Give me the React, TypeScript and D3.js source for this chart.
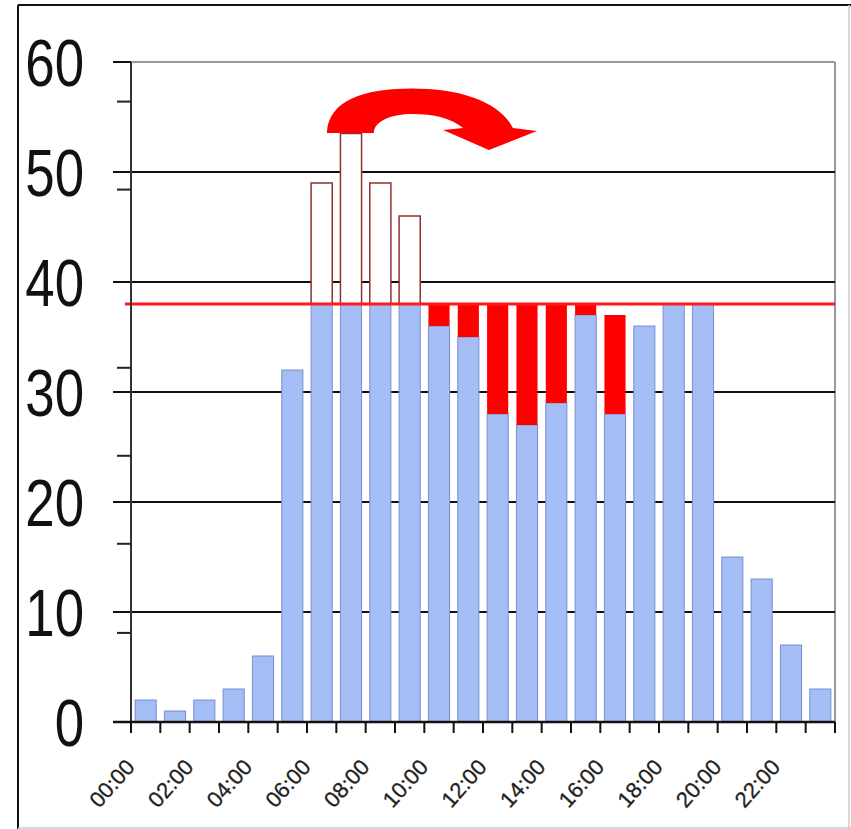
import React from "react";
import * as d3 from "d3";

const hours = d3.range(24).map((h) => `${String(h).padStart(2, "0")}:00`);
// value served within the cap (blue)
const served = [2, 1, 2, 3, 6, 32, 38, 38, 38, 38, 36, 35, 28, 27, 29, 37, 28, 36, 38, 38, 15, 13, 7, 3];
// original peak demand above the cap (outlined bars)
const peakDemand = [0, 0, 0, 0, 0, 0, 49, 53.5, 49, 46, 0, 0, 0, 0, 0, 0, 0, 0, 0, 0, 0, 0, 0, 0];
// demand shifted into later hours (red)
const shiftedIn = [0, 0, 0, 0, 0, 0, 0, 0, 0, 0, 2, 3, 10, 11, 9, 1, 9, 0, 0, 0, 0, 0, 0, 0];
const capacity = 38;
const yTicks = [0, 10, 20, 30, 40, 50, 60];
const yMinorTicks = [8.1, 16.2, 24.2, 32.2, 48.4, 56.4];
const xLabelEvery = 2;
// arrow annotation in data units: [hourPosition, value]
const arrowOuter: [number, number][] = [
  [6.68, 53.55], [6.72, 56.6], [8.0, 57.6], [9.58, 57.6],
  [11.3, 57.6], [12.6, 56.3], [13.02, 54.0],
];
const arrowHead: [number, number][] = [[13.84, 53.73], [12.2, 52.0], [10.64, 53.82], [11.32, 54.0]];
const arrowInner: [number, number][] = [
  [11.32, 54.0], [10.88, 54.91], [10.36, 55.27], [9.58, 55.27],
  [8.9, 55.27], [8.28, 54.64], [8.28, 53.55],
];

const W = 851;
const H = 829;
const M = { left: 131, right: 835, top: 62, bottom: 722 };

export default function App() {
  const x = d3.scaleBand<string>().domain(hours).range([M.left, M.right]).paddingInner(0.28).paddingOuter(0.14);
  const xc = d3.scaleLinear().domain([0, 24]).range([M.left, M.right]);
  const y = d3.scaleLinear().domain([0, 60]).range([M.bottom, M.top]);
  const bw = x.bandwidth();

  const P = (p: [number, number]) => `${xc(p[0]).toFixed(1)},${y(p[1]).toFixed(1)}`;
  const arrowD =
    `M${P(arrowOuter[0])} C${P(arrowOuter[1])} ${P(arrowOuter[2])} ${P(arrowOuter[3])} ` +
    `C${P(arrowOuter[4])} ${P(arrowOuter[5])} ${P(arrowOuter[6])} ` +
    arrowHead.map((p) => `L${P(p)}`).join(" ") +
    ` C${P(arrowInner[1])} ${P(arrowInner[2])} ${P(arrowInner[3])} ` +
    `C${P(arrowInner[4])} ${P(arrowInner[5])} ${P(arrowInner[6])} Z`;

  const font = "'Liberation Sans', Arial, sans-serif";

  return (
    <svg width={W} height={H} style={{ position: "absolute", left: 0, top: 0, background: "#fff" }}>
      <rect x={0} y={0} width={W} height={H} fill="#fff" />
      {/* outer frame */}
      <line x1={18} x2={W} y1={5} y2={5} stroke="#111" strokeWidth={2} />
      <line x1={18} x2={18} y1={5} y2={H} stroke="#111" strokeWidth={2} />
      <line x1={849} x2={849} y1={5} y2={H} stroke="#ccc" strokeWidth={1.5} />
      <line x1={18} x2={W} y1={828} y2={828} stroke="#ccc" strokeWidth={1.5} />

      {/* plot frame */}
      <line x1={M.left} x2={M.right} y1={y(60)} y2={y(60)} stroke="#999" strokeWidth={2} />
      <line x1={M.right} x2={M.right} y1={y(60)} y2={y(0)} stroke="#999" strokeWidth={2} />

      {/* gridlines */}
      {yTicks.filter((t) => t > 0 && t < 60).map((t) => (
        <line key={t} x1={113} x2={M.right} y1={y(t)} y2={y(t)} stroke="#111" strokeWidth={2} />
      ))}

      {/* bars */}
      {hours.map((h, i) => (
        <g key={h}>
          {peakDemand[i] > 0 && (
            <rect x={x(h)} y={y(peakDemand[i])} width={bw} height={y(capacity) - y(peakDemand[i])}
              fill="#fff" stroke="#8c3030" strokeWidth={1.5} />
          )}
          <rect x={x(h)} y={y(served[i])} width={bw} height={y(0) - y(served[i])}
            fill="#a4bdf4" stroke="#7d8ed0" strokeWidth={1} />
          {shiftedIn[i] > 0 && (
            <rect x={x(h)} y={y(served[i] + shiftedIn[i])} width={bw}
              height={y(served[i]) - y(served[i] + shiftedIn[i])} fill="#ff0000" />
          )}
        </g>
      ))}

      {/* capacity line */}
      <line x1={125} x2={M.right} y1={y(capacity)} y2={y(capacity)} stroke="#ff1a1a" strokeWidth={3} />

      {/* arrow */}
      <path d={arrowD} fill="#ff0000" />

      {/* y axis */}
      <line x1={M.left} x2={M.left} y1={y(60)} y2={y(0)} stroke="#333" strokeWidth={2} />
      <line x1={113} x2={M.left} y1={y(60)} y2={y(60)} stroke="#111" strokeWidth={2} />
      {yMinorTicks.map((t) => (
        <line key={t} x1={117} x2={M.left} y1={y(t)} y2={y(t)} stroke="#222" strokeWidth={2} />
      ))}
      {yTicks.map((t) => (
        <g key={t} transform={`translate(84,${y(t)}) scale(0.8,1)`}>
          <text textAnchor="end" dy="0.36em" fontSize={66} fontFamily={font} fill="#111">{t}</text>
        </g>
      ))}

      {/* x axis */}
      <line x1={113} x2={M.right} y1={y(0)} y2={y(0)} stroke="#111" strokeWidth={2.5} />
      {d3.range(25).map((i) => (
        <line key={i} x1={xc(i)} x2={xc(i)} y1={y(0)} y2={y(0) + 11} stroke="#111" strokeWidth={2} />
      ))}
      {hours.map((h, i) =>
        i % xLabelEvery === 0 ? (
          <text key={h} transform={`translate(${xc(i) + 5},${y(0) + 46}) rotate(-48)`} textAnchor="end"
            fontSize={22} fontFamily={font} fill="#222" stroke="#222" strokeWidth={0.3}>{h}</text>
        ) : null
      )}
    </svg>
  );
}
